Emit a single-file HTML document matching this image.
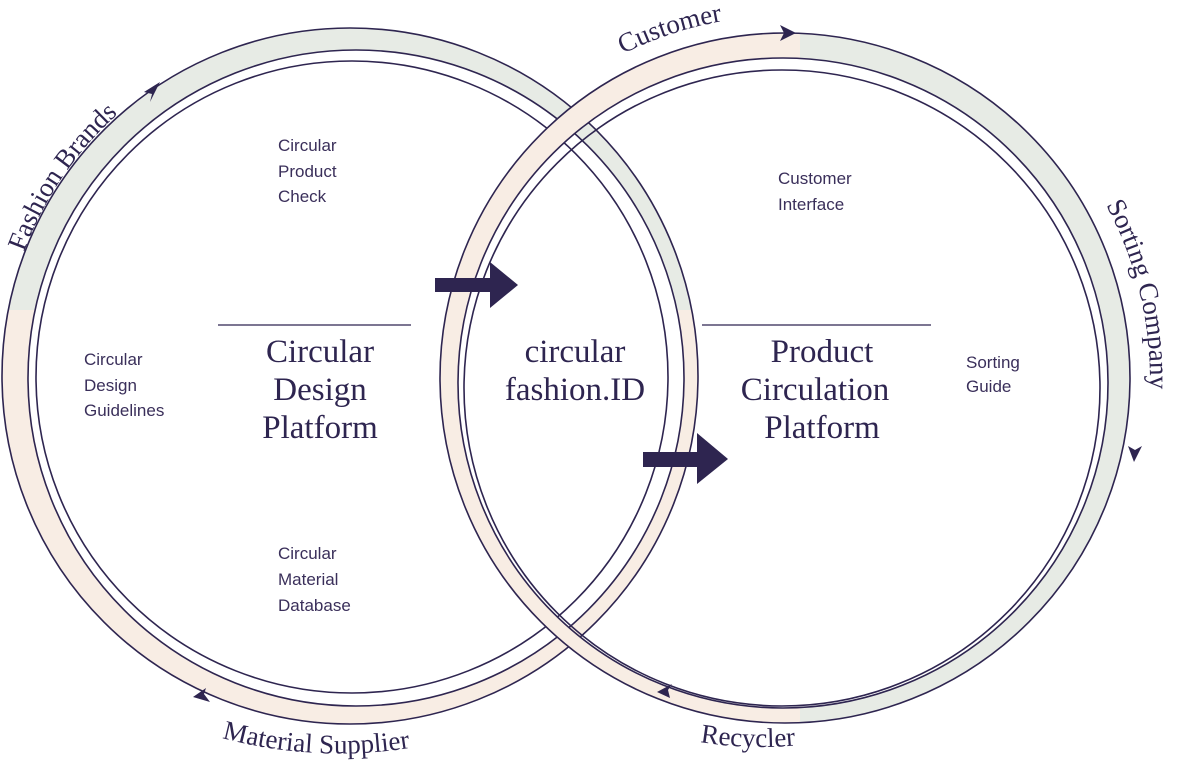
<!DOCTYPE html>
<html><head><meta charset="utf-8"><style>
html,body{margin:0;padding:0;background:#fff;}
svg{display:block;}
.s{font-family:"Liberation Sans",sans-serif;font-size:17px;fill:#3a2f5a;}
.t{font-family:"Liberation Serif",serif;font-size:33px;fill:#2e2550;}
.c{font-family:"Liberation Serif",serif;font-size:27px;fill:#2e2550;}
</style></head><body>
<svg width="1182" height="768" viewBox="0 0 1182 768" xmlns="http://www.w3.org/2000/svg">
<defs>
<clipPath id="lt"><rect x="0" y="0" width="1182" height="310"/></clipPath>
<clipPath id="lb"><rect x="0" y="310" width="1182" height="460"/></clipPath>
<clipPath id="rl"><rect x="0" y="0" width="800" height="768"/></clipPath>
<clipPath id="rr"><rect x="800" y="0" width="400" height="768"/></clipPath>
<path id="pFB" d="M 24 252 A 345 345 0 0 1 176 72"/>
<path id="pMS" d="M 222 738 A 453 453 0 0 0 495 726"/>
<path id="pCu" d="M 623 54 A 362 362 0 0 1 816 17"/>
<path id="pSC" d="M 1106 205 A 365 365 0 0 1 1128 503"/>
<path id="pRe" d="M 700 742 A 371 371 0 0 0 887 725"/>
</defs>
<g stroke="#2e2550" stroke-width="1.6">
<path d="M350 28 a348 348 0 1 0 0.01 0 Z M356 50 a328 328 0 1 1 -0.01 0 Z" fill="#e7ebe5" fill-rule="evenodd" clip-path="url(#lt)" stroke="none"/>
<path d="M350 28 a348 348 0 1 0 0.01 0 Z M356 50 a328 328 0 1 1 -0.01 0 Z" fill="#f8ede4" fill-rule="evenodd" clip-path="url(#lb)" stroke="none"/>
<circle cx="350" cy="376" r="348" fill="none"/>
<circle cx="356" cy="378" r="328" fill="none"/>
<circle cx="352" cy="377" r="316" fill="none"/>
<path d="M785 33 a345 345 0 1 0 0.01 0 Z M783 58 a325 325 0 1 1 -0.01 0 Z" fill="#f8ede4" fill-rule="evenodd" clip-path="url(#rl)" stroke="none"/>
<path d="M785 33 a345 345 0 1 0 0.01 0 Z M783 58 a325 325 0 1 1 -0.01 0 Z" fill="#e7ebe5" fill-rule="evenodd" clip-path="url(#rr)" stroke="none"/>
<circle cx="785" cy="378" r="345" fill="none"/>
<circle cx="783" cy="383" r="325" fill="none"/>
<circle cx="782" cy="388" r="318" fill="none"/>
</g>
<g fill="#2e2550">
<polygon points="160,82 144,92 152,94 150,102"/>
<polygon points="796,33 780,25 784,33 780,41"/>
<polygon points="1134,462 1128,446 1135,450 1142,446"/>
<polygon points="657,692 672,684 668,690 670,698"/>
<polygon points="193,697 206,688 204,694 210,702"/>
</g>
<g fill="#2e2550">
<polygon points="435,278 490,278 490,262 518,285 490,308 490,292 435,292"/>
<polygon points="643,452 697,452 697,433 728,459 697,484 697,467 643,467"/>
</g>
<line x1="218" y1="325" x2="411" y2="325" stroke="#2e2550" stroke-width="1.3"/>
<line x1="702" y1="325" x2="931" y2="325" stroke="#2e2550" stroke-width="1.3"/>
<text class="t" text-anchor="middle"><tspan x="320" y="362">Circular</tspan><tspan x="320" y="400">Design</tspan><tspan x="320" y="438">Platform</tspan></text>
<text class="t" text-anchor="middle"><tspan x="575" y="362">circular</tspan><tspan x="575" y="400">fashion.ID</tspan></text>
<text class="t" text-anchor="middle"><tspan x="822" y="362">Product</tspan><tspan x="815" y="400">Circulation</tspan><tspan x="822" y="438">Platform</tspan></text>
<text class="s"><tspan x="278" y="151">Circular</tspan><tspan x="278" y="177">Product</tspan><tspan x="278" y="202">Check</tspan></text>
<text class="s"><tspan x="84" y="365">Circular</tspan><tspan x="84" y="391">Design</tspan><tspan x="84" y="416">Guidelines</tspan></text>
<text class="s"><tspan x="278" y="559">Circular</tspan><tspan x="278" y="585">Material</tspan><tspan x="278" y="611">Database</tspan></text>
<text class="s"><tspan x="778" y="184">Customer</tspan><tspan x="778" y="210">Interface</tspan></text>
<text class="s"><tspan x="966" y="368">Sorting</tspan><tspan x="966" y="392">Guide</tspan></text>
<text class="c"><textPath href="#pFB">Fashion Brands</textPath></text>
<text class="c"><textPath href="#pMS">Material Supplier</textPath></text>
<text class="c"><textPath href="#pCu">Customer</textPath></text>
<text class="c"><textPath href="#pSC">Sorting Company</textPath></text>
<text class="c"><textPath href="#pRe">Recycler</textPath></text>
</svg>
</body></html>
